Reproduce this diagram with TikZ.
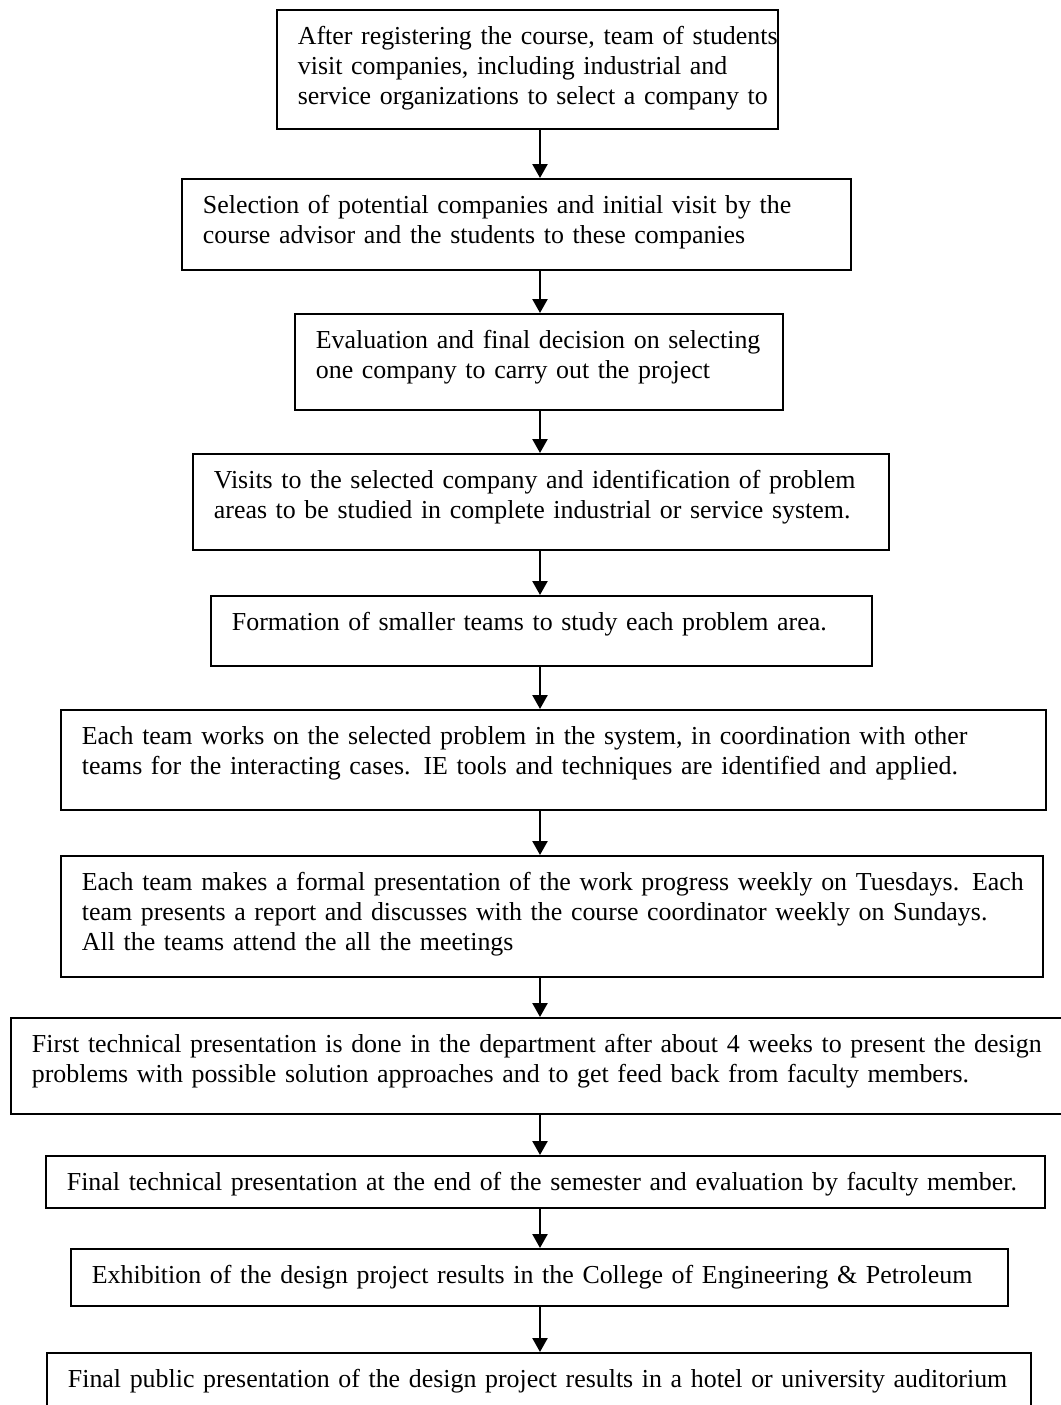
\documentclass[tikz,border=0pt]{standalone}
\usepackage{fontspec}
\setmainfont{Liberation Serif}
\usetikzlibrary{arrows.meta}

\begin{document}
\begin{tikzpicture}[x=0.5pt,y=-0.5pt,font=\fontsize{12.95}{15}\selectfont,
    stage/.style={draw,line width=0.9pt,rectangle,anchor=north west,align=left,
      inner xsep=10.5pt,inner ysep=7pt,text height=10.5pt},
    flow/.style={-{Triangle[length=7pt,width=7.5pt]},line width=1.2pt}]

  \useasboundingbox (0,0) rectangle (1061,1405);
  \clip (0,0) rectangle (1061,1405);

  \coordinate (axis) at (540,0);

  \node[stage,text width=229.5pt,text depth=35pt] (reg) at (276,9)
    {\mbox{After registering the course, team of students}\\ visit companies, including industrial and\\ \mbox{service organizations to select a company to}};
  \node[stage,text width=313.5pt,text depth=21pt] (visit) at (181,178)
    {Selection of potential companies and initial visit by the\\ course advisor and the students to these companies};
  \node[stage,text width=223pt,text depth=23.5pt] (eval) at (294,313)
    {\mbox{Evaluation and final decision on selecting}\\ one company to carry out the project};
  \node[stage,text width=327pt,text depth=23.5pt] (ident) at (192,453)
    {Visits to the selected company and identification of problem\\ areas to be studied in complete industrial or service system.};
  \node[stage,text width=309.5pt,text depth=10.5pt] (teams) at (210,595)
    {Formation of smaller teams to study each problem area.};
  \node[stage,text width=471.5pt,text depth=25.5pt] (work) at (60,709)
    {Each team works on the selected problem in the system, in coordination with other\\ teams for the interacting cases. IE tools and techniques are identified and applied.};
  \node[stage,text width=470pt,text depth=36pt] (weekly) at (60,855)
    {\mbox{Each team makes a formal presentation of the work progress weekly on Tuesdays. Each}\\ team presents a report and discusses with the course coordinator weekly on Sundays.\\ All the teams attend the all the meetings};
  \node[stage,text width=521.5pt,text depth=23.5pt] (first) at (10,1017)
    {\mbox{First technical presentation is done in the department after about 4 weeks to present the design}\\ problems with possible solution approaches and to get feed back from faculty members.};
  \node[stage,text width=478.5pt,text depth=1.5pt] (final) at (45,1155)
    {Final technical presentation at the end of the semester and evaluation by faculty member.};
  \node[stage,text width=447.5pt,text depth=4pt] (expo) at (70,1248)
    {Exhibition of the design project results in the College of Engineering \& Petroleum};
  \node[stage,text width=471pt,text depth=9.5pt] (public) at (46,1352)
    {\mbox{Final public presentation of the design project results in a hotel or university auditorium}};

  \foreach \a/\b in {reg/visit,visit/eval,eval/ident,ident/teams,teams/work,
      work/weekly,weekly/first,first/final,final/expo,expo/public}
    \draw[flow] (axis |- \a.south) -- (axis |- \b.north);

\end{tikzpicture}
\end{document}
